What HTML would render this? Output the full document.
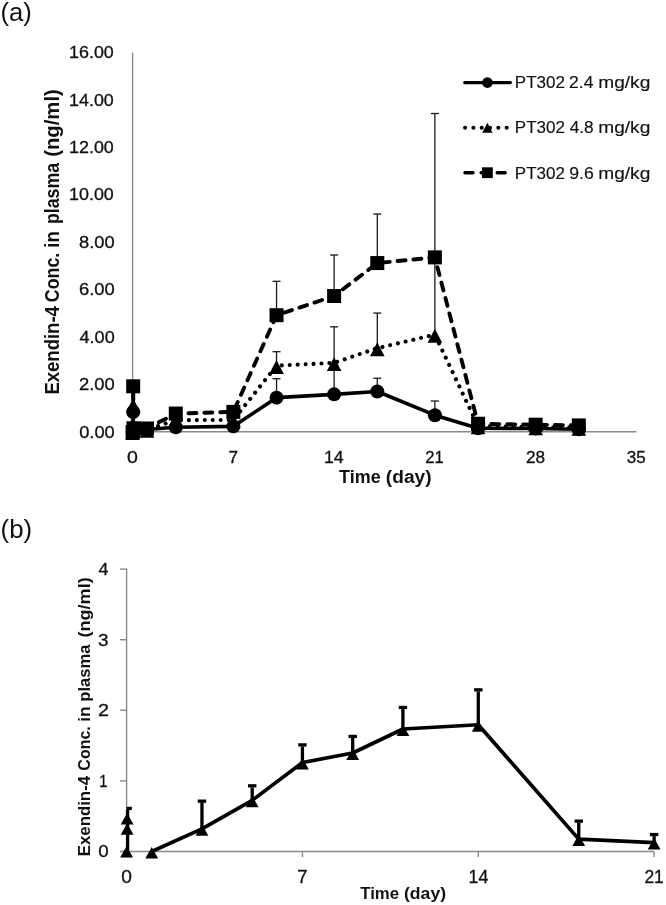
<!DOCTYPE html>
<html><head><meta charset="utf-8"><title>Exendin-4 plasma concentration</title>
<style>
html,body{margin:0;padding:0;background:#fff;}
body{width:666px;height:905px;overflow:hidden;font-family:"Liberation Sans",sans-serif;}
svg{display:block;will-change:transform;}
text{fill:#111;font-family:"Liberation Sans",sans-serif;}
</style></head>
<body>
<svg width="666" height="905" viewBox="0 0 666 905">
<rect width="666" height="905" fill="#fff"/>
<text x="0.46" y="21.30" font-size="26" textLength="31.33" lengthAdjust="spacingAndGlyphs">(a)</text>
<line x1="132.6" y1="52.6" x2="132.6" y2="431.8" stroke="#8a8a8a" stroke-width="1.4"/>
<line x1="131.9" y1="431.8" x2="636.39" y2="431.8" stroke="#8a8a8a" stroke-width="1.6"/>
<text x="79.17" y="437.50" font-size="16.9" stroke="#111" stroke-width="0.3" textLength="35.60" lengthAdjust="spacingAndGlyphs">0.00</text>
<text x="78.98" y="390.10" font-size="16.9" stroke="#111" stroke-width="0.3" textLength="35.79" lengthAdjust="spacingAndGlyphs">2.00</text>
<text x="79.54" y="342.70" font-size="16.9" stroke="#111" stroke-width="0.3" textLength="35.22" lengthAdjust="spacingAndGlyphs">4.00</text>
<text x="78.98" y="295.30" font-size="16.9" stroke="#111" stroke-width="0.3" textLength="35.79" lengthAdjust="spacingAndGlyphs">6.00</text>
<text x="79.07" y="247.90" font-size="16.9" stroke="#111" stroke-width="0.3" textLength="35.69" lengthAdjust="spacingAndGlyphs">8.00</text>
<text x="69.06" y="200.40" font-size="16.9" stroke="#111" stroke-width="0.3" textLength="44.71" lengthAdjust="spacingAndGlyphs">10.00</text>
<text x="69.06" y="153.00" font-size="16.9" stroke="#111" stroke-width="0.3" textLength="44.71" lengthAdjust="spacingAndGlyphs">12.00</text>
<text x="69.06" y="105.60" font-size="16.9" stroke="#111" stroke-width="0.3" textLength="44.71" lengthAdjust="spacingAndGlyphs">14.00</text>
<text x="69.06" y="58.20" font-size="16.9" stroke="#111" stroke-width="0.3" textLength="44.71" lengthAdjust="spacingAndGlyphs">16.00</text>
<text x="127.02" y="463.00" font-size="16.6" stroke="#111" stroke-width="0.3" textLength="10.89" lengthAdjust="spacingAndGlyphs">0</text>
<text x="228.54" y="463.00" font-size="16.6" stroke="#111" stroke-width="0.3" textLength="9.53" lengthAdjust="spacingAndGlyphs">7</text>
<text x="323.97" y="463.00" font-size="16.6" stroke="#111" stroke-width="0.3" textLength="19.70" lengthAdjust="spacingAndGlyphs">14</text>
<text x="425.37" y="463.00" font-size="16.6" stroke="#111" stroke-width="0.3" textLength="18.41" lengthAdjust="spacingAndGlyphs">21</text>
<text x="526.04" y="463.00" font-size="16.6" stroke="#111" stroke-width="0.3" textLength="19.19" lengthAdjust="spacingAndGlyphs">28</text>
<text x="626.72" y="463.00" font-size="16.6" stroke="#111" stroke-width="0.3" textLength="19.01" lengthAdjust="spacingAndGlyphs">35</text>
<text x="339.02" y="482.70" font-size="17.6" font-weight="bold" textLength="41.63" lengthAdjust="spacingAndGlyphs">Time</text>
<text x="385.84" y="482.70" font-size="17.6" font-weight="bold" textLength="45.70" lengthAdjust="spacingAndGlyphs">(day)</text>
<text transform="translate(58.70 393.40) rotate(-90)" x="-1.20" y="0" font-size="19.3" font-weight="bold" textLength="88.48" lengthAdjust="spacingAndGlyphs">Exendin-4</text>
<text transform="translate(58.70 301.50) rotate(-90)" x="-0.71" y="0" font-size="19.3" font-weight="bold" textLength="49.42" lengthAdjust="spacingAndGlyphs">Conc.</text>
<text transform="translate(58.70 246.40) rotate(-90)" x="-1.30" y="0" font-size="19.3" font-weight="bold" textLength="16.49" lengthAdjust="spacingAndGlyphs">in</text>
<text transform="translate(58.70 222.90) rotate(-90)" x="-1.15" y="0" font-size="19.3" font-weight="bold" textLength="61.10" lengthAdjust="spacingAndGlyphs">plasma</text>
<text transform="translate(58.70 155.80) rotate(-90)" x="-1.01" y="0" font-size="19.3" font-weight="bold" textLength="67.58" lengthAdjust="spacingAndGlyphs">(ng/ml)</text>
<g stroke="#1a1a1a" stroke-width="1.3">
<line x1="276.54" y1="315.2" x2="276.54" y2="281.31"/>
<line x1="334.12" y1="296" x2="334.12" y2="255"/>
<line x1="377.3" y1="263.06" x2="377.3" y2="214"/>
<line x1="434.87" y1="257.37" x2="434.87" y2="113.51"/>
<line x1="276.54" y1="366.86" x2="276.54" y2="351.69"/>
<line x1="334.12" y1="364.25" x2="334.12" y2="326.81"/>
<line x1="377.3" y1="348.61" x2="377.3" y2="313.06"/>
<line x1="434.87" y1="335.1" x2="434.87" y2="258.79"/>
<line x1="276.54" y1="397.67" x2="276.54" y2="378.71"/>
<line x1="334.12" y1="393.88" x2="334.12" y2="367.81"/>
<line x1="377.3" y1="390.8" x2="377.3" y2="378.24"/>
<line x1="434.87" y1="415.21" x2="434.87" y2="400.99"/>
<line x1="272.54" y1="281.31" x2="280.54" y2="281.31"/>
<line x1="330.12" y1="255" x2="338.12" y2="255"/>
<line x1="373.3" y1="214" x2="381.3" y2="214"/>
<line x1="430.87" y1="113.51" x2="438.87" y2="113.51"/>
<line x1="272.54" y1="351.69" x2="280.54" y2="351.69"/>
<line x1="330.12" y1="326.81" x2="338.12" y2="326.81"/>
<line x1="373.3" y1="313.06" x2="381.3" y2="313.06"/>
<line x1="272.54" y1="378.71" x2="280.54" y2="378.71"/>
<line x1="373.3" y1="378.24" x2="381.3" y2="378.24"/>
<line x1="430.87" y1="400.99" x2="438.87" y2="400.99"/>
</g>
<path d="M132.6 431.8L133.18 412.01L133.46 429.43L146.99 429.43L175.78 427.3L233.36 426.35L276.54 397.67L334.12 394.35L377.3 391.51L434.87 415.21L478.06 428.25L535.63 428.48L578.81 429.19" fill="none" stroke="#000" stroke-width="3.6" stroke-linejoin="round"/>
<path d="M132.6 431.8L133.18 404.07L133.46 429.43L146.99 429.67L175.78 420.19L233.36 419.95L276.54 365.68L334.12 362.83L377.3 348.14L434.87 334.63L478.06 426.11L535.63 427.06L578.81 427.53" fill="none" stroke="#000" stroke-width="4.1" stroke-linecap="round" stroke-dasharray="0.01 7.93" stroke-dashoffset="1.1"/>
<path d="M132.6 432.04L133.18 386.3L133.46 428.25L146.99 428.48L175.78 413.55L233.36 411.89L276.54 315.2L334.12 296L377.3 263.06L434.87 257.37L478.06 423.74L535.63 424.69L578.81 425.4" fill="none" stroke="#000" stroke-width="3.9" stroke-linecap="round" stroke-dasharray="8 7.9" stroke-dashoffset="-3.25"/>
<line x1="133.18" y1="386.3" x2="133.32" y2="408.1" stroke="#000" stroke-width="3.6"/>
<g fill="#000">
<circle cx="132.6" cy="431.8" r="7"/>
<circle cx="133.18" cy="412.01" r="7"/>
<circle cx="133.46" cy="429.43" r="7"/>
<circle cx="146.99" cy="429.43" r="7"/>
<circle cx="175.78" cy="427.3" r="7"/>
<circle cx="233.36" cy="426.35" r="7"/>
<circle cx="276.54" cy="397.67" r="7"/>
<circle cx="334.12" cy="394.35" r="7"/>
<circle cx="377.3" cy="391.51" r="7"/>
<circle cx="434.87" cy="415.21" r="7"/>
<circle cx="478.06" cy="428.25" r="7"/>
<circle cx="535.63" cy="428.48" r="7"/>
<circle cx="578.81" cy="429.19" r="7"/>
<path d="M132.6 426L139.9 440L125.3 440Z"/>
<path d="M133.18 398.27L140.48 412.27L125.88 412.27Z"/>
<path d="M133.46 423.63L140.76 437.63L126.16 437.63Z"/>
<path d="M146.99 423.87L154.29 437.87L139.69 437.87Z"/>
<path d="M175.78 414.39L183.08 428.39L168.48 428.39Z"/>
<path d="M233.36 414.15L240.66 428.15L226.06 428.15Z"/>
<path d="M276.54 359.88L283.84 373.88L269.24 373.88Z"/>
<path d="M334.12 357.03L341.42 371.03L326.82 371.03Z"/>
<path d="M377.3 342.34L384.6 356.34L370 356.34Z"/>
<path d="M434.87 328.83L442.17 342.83L427.57 342.83Z"/>
<path d="M478.06 420.31L485.36 434.31L470.76 434.31Z"/>
<path d="M535.63 421.26L542.93 435.26L528.33 435.26Z"/>
<path d="M578.81 421.73L586.11 435.73L571.51 435.73Z"/>
<rect x="125.6" y="425.04" width="14" height="14"/>
<rect x="126.18" y="379.3" width="14" height="14"/>
<rect x="126.46" y="421.25" width="14" height="14"/>
<rect x="139.99" y="421.48" width="14" height="14"/>
<rect x="168.78" y="406.55" width="14" height="14"/>
<rect x="226.36" y="404.89" width="14" height="14"/>
<rect x="269.54" y="308.2" width="14" height="14"/>
<rect x="327.12" y="289" width="14" height="14"/>
<rect x="370.3" y="256.06" width="14" height="14"/>
<rect x="427.87" y="250.37" width="14" height="14"/>
<rect x="471.06" y="416.74" width="14" height="14"/>
<rect x="528.63" y="417.69" width="14" height="14"/>
<rect x="571.81" y="418.4" width="14" height="14"/>
</g>
<line x1="464.8" y1="82.6" x2="510.3" y2="82.6" stroke="#000" stroke-width="3.4" stroke-linecap="round"/>
<circle cx="487.4" cy="82.6" r="5.3"/>
<line x1="465.1" y1="127.8" x2="511.8" y2="127.8" stroke="#000" stroke-width="4.1" stroke-linecap="round" stroke-dasharray="0.01 8.3"/>
<path d="M487.4 122.8L492.6 132.8L482.2 132.8Z"/>
<line x1="465.0" y1="172.7" x2="511.8" y2="172.7" stroke="#000" stroke-width="3.4" stroke-linecap="round" stroke-dasharray="8 8.1"/>
<rect x="482" y="167.3" width="10.8" height="10.8"/>
<text x="514.84" y="88.40" font-size="16.6" stroke="#111" stroke-width="0.15" textLength="50.03" lengthAdjust="spacingAndGlyphs">PT302</text>
<text x="569.12" y="88.40" font-size="16.6" stroke="#111" stroke-width="0.15" textLength="24.41" lengthAdjust="spacingAndGlyphs">2.4</text>
<text x="598.26" y="88.40" font-size="16.6" stroke="#111" stroke-width="0.15" textLength="52.05" lengthAdjust="spacingAndGlyphs">mg/kg</text>
<text x="514.84" y="133.40" font-size="16.6" stroke="#111" stroke-width="0.15" textLength="50.03" lengthAdjust="spacingAndGlyphs">PT302</text>
<text x="569.65" y="133.40" font-size="16.6" stroke="#111" stroke-width="0.15" textLength="24.04" lengthAdjust="spacingAndGlyphs">4.8</text>
<text x="598.26" y="133.40" font-size="16.6" stroke="#111" stroke-width="0.15" textLength="52.05" lengthAdjust="spacingAndGlyphs">mg/kg</text>
<text x="514.84" y="178.90" font-size="16.6" stroke="#111" stroke-width="0.15" textLength="50.03" lengthAdjust="spacingAndGlyphs">PT302</text>
<text x="569.21" y="178.90" font-size="16.6" stroke="#111" stroke-width="0.15" textLength="24.50" lengthAdjust="spacingAndGlyphs">9.6</text>
<text x="598.26" y="178.90" font-size="16.6" stroke="#111" stroke-width="0.15" textLength="52.05" lengthAdjust="spacingAndGlyphs">mg/kg</text>
<text x="0.55" y="537.70" font-size="26" textLength="31.56" lengthAdjust="spacingAndGlyphs">(b)</text>
<line x1="126.6" y1="569.1" x2="126.6" y2="851.5" stroke="#8a8a8a" stroke-width="1.4"/>
<line x1="120" y1="851.5" x2="654.12" y2="851.5" stroke="#8a8a8a" stroke-width="1.4"/>
<line x1="120" y1="851.5" x2="126.6" y2="851.5" stroke="#8a8a8a" stroke-width="1.4"/>
<text x="98.15" y="857.40" font-size="17.2" stroke="#111" stroke-width="0.3" textLength="10.43" lengthAdjust="spacingAndGlyphs">0</text>
<line x1="120" y1="780.9" x2="126.6" y2="780.9" stroke="#8a8a8a" stroke-width="1.4"/>
<text x="99.30" y="786.80" font-size="17.2" stroke="#111" stroke-width="0.3" textLength="8.18" lengthAdjust="spacingAndGlyphs">1</text>
<line x1="120" y1="710.3" x2="126.6" y2="710.3" stroke="#8a8a8a" stroke-width="1.4"/>
<text x="97.91" y="716.20" font-size="17.2" stroke="#111" stroke-width="0.3" textLength="11.00" lengthAdjust="spacingAndGlyphs">2</text>
<line x1="120" y1="639.7" x2="126.6" y2="639.7" stroke="#8a8a8a" stroke-width="1.4"/>
<text x="98.14" y="645.60" font-size="17.2" stroke="#111" stroke-width="0.3" textLength="10.54" lengthAdjust="spacingAndGlyphs">3</text>
<line x1="120" y1="569.1" x2="126.6" y2="569.1" stroke="#8a8a8a" stroke-width="1.4"/>
<text x="98.54" y="575.00" font-size="17.2" stroke="#111" stroke-width="0.3" textLength="9.91" lengthAdjust="spacingAndGlyphs">4</text>
<line x1="126.6" y1="851.5" x2="126.6" y2="857.1" stroke="#8a8a8a" stroke-width="1.4"/>
<line x1="302.44" y1="851.5" x2="302.44" y2="857.1" stroke="#8a8a8a" stroke-width="1.4"/>
<line x1="478.28" y1="851.5" x2="478.28" y2="857.1" stroke="#8a8a8a" stroke-width="1.4"/>
<line x1="654.12" y1="851.5" x2="654.12" y2="857.1" stroke="#8a8a8a" stroke-width="1.4"/>
<text x="121.23" y="882.60" font-size="17.5" stroke="#111" stroke-width="0.3" textLength="10.66" lengthAdjust="spacingAndGlyphs">0</text>
<text x="297.18" y="882.60" font-size="17.5" stroke="#111" stroke-width="0.3" textLength="10.27" lengthAdjust="spacingAndGlyphs">7</text>
<text x="468.57" y="882.60" font-size="17.5" stroke="#111" stroke-width="0.3" textLength="19.70" lengthAdjust="spacingAndGlyphs">14</text>
<text x="644.43" y="882.60" font-size="17.5" stroke="#111" stroke-width="0.3" textLength="19.40" lengthAdjust="spacingAndGlyphs">21</text>
<text x="360.23" y="898.50" font-size="16.2" font-weight="bold" textLength="38.87" lengthAdjust="spacingAndGlyphs">Time</text>
<text x="404.02" y="898.50" font-size="16.2" font-weight="bold" textLength="42.05" lengthAdjust="spacingAndGlyphs">(day)</text>
<text transform="translate(90.40 855.10) rotate(-90)" x="-1.09" y="0" font-size="16.9" font-weight="bold" textLength="80.16" lengthAdjust="spacingAndGlyphs">Exendin-4</text>
<text transform="translate(90.40 770.00) rotate(-90)" x="-0.64" y="0" font-size="16.9" font-weight="bold" textLength="44.32" lengthAdjust="spacingAndGlyphs">Conc.</text>
<text transform="translate(90.40 720.50) rotate(-90)" x="-1.22" y="0" font-size="16.9" font-weight="bold" textLength="15.43" lengthAdjust="spacingAndGlyphs">in</text>
<text transform="translate(90.40 700.60) rotate(-90)" x="-1.08" y="0" font-size="16.9" font-weight="bold" textLength="57.24" lengthAdjust="spacingAndGlyphs">plasma</text>
<text transform="translate(90.40 636.60) rotate(-90)" x="-0.90" y="0" font-size="16.9" font-weight="bold" textLength="60.16" lengthAdjust="spacingAndGlyphs">(ng/ml)</text>
<g stroke="#000" stroke-width="3.3">
<line x1="127.6" y1="851.5" x2="127.6" y2="810.03"/>
<line x1="126.6" y1="808.43" x2="131.8" y2="808.43"/>
<line x1="201.96" y1="828.91" x2="201.96" y2="802.76"/>
<line x1="197.76" y1="801.16" x2="206.16" y2="801.16"/>
<line x1="252.2" y1="800.32" x2="252.2" y2="787.44"/>
<line x1="248" y1="785.84" x2="256.4" y2="785.84"/>
<line x1="302.44" y1="762.54" x2="302.44" y2="746.49"/>
<line x1="298.24" y1="744.89" x2="306.64" y2="744.89"/>
<line x1="352.68" y1="753.01" x2="352.68" y2="738.02"/>
<line x1="348.48" y1="736.42" x2="356.88" y2="736.42"/>
<line x1="402.92" y1="729.01" x2="402.92" y2="709.08"/>
<line x1="398.72" y1="707.48" x2="407.12" y2="707.48"/>
<line x1="478.28" y1="724.77" x2="478.28" y2="691.43"/>
<line x1="474.08" y1="689.83" x2="482.48" y2="689.83"/>
<line x1="578.76" y1="839.14" x2="578.76" y2="822.74"/>
<line x1="574.56" y1="821.14" x2="582.96" y2="821.14"/>
<line x1="654.12" y1="842.67" x2="654.12" y2="836.16"/>
<line x1="649.92" y1="834.56" x2="658.32" y2="834.56"/>
</g>
<path d="M151.72 851.5L201.96 828.91L252.2 800.32L302.44 762.54L352.68 753.01L402.92 729.01L478.28 724.77L578.76 839.14L654.12 842.67" fill="none" stroke="#000" stroke-width="3.7" stroke-linejoin="round"/>
<g fill="#000">
<path d="M151.72 846.95L158.12 858.45L145.32 858.45Z"/>
<path d="M201.96 824.36L208.36 835.86L195.56 835.86Z"/>
<path d="M252.2 795.77L258.6 807.27L245.8 807.27Z"/>
<path d="M302.44 757.99L308.84 769.49L296.04 769.49Z"/>
<path d="M352.68 748.46L359.08 759.96L346.28 759.96Z"/>
<path d="M402.92 724.46L409.32 735.96L396.52 735.96Z"/>
<path d="M478.28 720.22L484.68 731.72L471.88 731.72Z"/>
<path d="M578.76 834.6L585.16 846.1L572.36 846.1Z"/>
<path d="M654.12 838.12L660.52 849.62L647.72 849.62Z"/>
<path d="M126.6 846L133 857.5L120.2 857.5Z"/>
<path d="M127.1 823.23L133.5 834.73L120.7 834.73Z"/>
<path d="M127.1 813.06L133.5 824.56L120.7 824.56Z"/>
</g>
</svg>
</body></html>
